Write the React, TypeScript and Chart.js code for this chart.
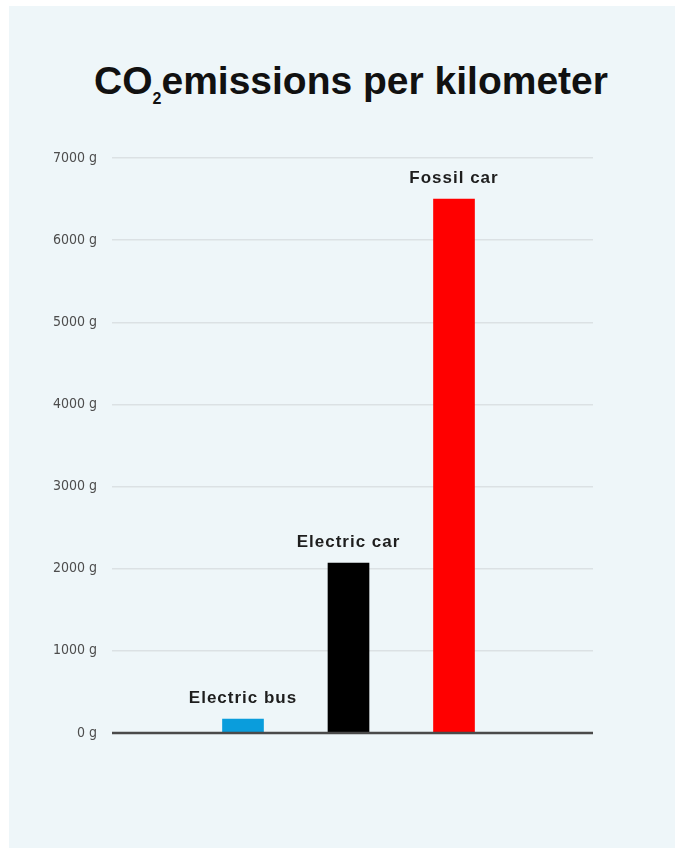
import React, { useEffect, useRef } from "react";
import { Chart, registerables } from "chart.js";

Chart.register(...registerables);

const categories = ["Electric bus", "Electric car", "Fossil car"];
const positions = [1, 2, 3];
const emissions = [170, 2070, 6500];
const barColors = ["#0a9ddc", "#000000", "#ff0000"];
const yTicks = [0, 1000, 2000, 3000, 4000, 5000, 6000, 7000];

const barLabelPlugin = {
  id: "barLabels",
  afterDatasetsDraw(chart: any) {
    const ctx = chart.ctx;
    const meta = chart.getDatasetMeta(0);
    ctx.save();
    ctx.font = "bold 17px 'Liberation Sans', Arial, sans-serif";
    (ctx as any).letterSpacing = "1px";
    ctx.fillStyle = "#1e1e1e";
    ctx.textAlign = "center";
    ctx.textBaseline = "alphabetic";
    meta.data.forEach((el: any, i: number) => {
      ctx.fillText(categories[i], el.x, el.y - 16);
    });
    ctx.restore();
  },
};

const zeroLinePlugin = {
  id: "zeroLine",
  afterDatasetsDraw(chart: any) {
    const ctx = chart.ctx;
    const y = chart.scales.y.getPixelForValue(0);
    const { left, right } = chart.chartArea;
    ctx.save();
    ctx.strokeStyle = "#4a4a4a";
    ctx.lineWidth = 2.5;
    ctx.beginPath();
    ctx.moveTo(left, y);
    ctx.lineTo(right, y);
    ctx.stroke();
    ctx.restore();
  },
};

export default function App() {
  const ref = useRef<HTMLCanvasElement | null>(null);

  useEffect(() => {
    if (!ref.current) return;
    const chart = new Chart(ref.current, {
      type: "bar",
      data: {
        datasets: [
          {
            data: positions.map((p, i) => ({ x: p, y: emissions[i] })),
            backgroundColor: barColors,
            borderWidth: 0,
            barThickness: 41,
          },
        ],
      },
      options: {
        animation: false,
        responsive: false,
        devicePixelRatio: 1,
        layout: { padding: { top: 152, bottom: 115, right: 82, left: 0 } },
        plugins: {
          legend: { display: false },
          tooltip: { enabled: false },
          title: { display: false },
        },
        scales: {
          x: {
            type: "linear",
            display: false,
            offset: false,
            grid: { offset: false },
            min: -0.2417,
            max: 4.3175,
          },
          y: {
            min: 0,
            max: 7000,
            afterFit(scale: any) {
              scale.width = 103;
            },
            afterBuildTicks(scale: any) {
              scale.ticks = yTicks.map((v) => ({ value: v }));
            },
            border: { display: false },
            grid: {
              drawTicks: false,
              color: (c: any) => (c.tick && c.tick.value === 0 ? "rgba(0,0,0,0)" : "#dbe1e4"),
              lineWidth: 1.5,
            },
            ticks: {
              padding: 15,
              color: "#4d4d4d",
              font: { family: "'Liberation Sans Narrow', 'DejaVu Sans Condensed', sans-serif", size: 14 },
              callback: (v: any) => `${v} g`,
            },
          },
        },
      },
      plugins: [barLabelPlugin, zeroLinePlugin],
    });
    return () => chart.destroy();
  }, []);

  return (
    <div
      style={{
        position: "fixed",
        left: 9,
        top: 6,
        width: 666,
        height: 842,
        background: "#eef6f9",
        overflow: "hidden",
      }}
    >
      <div
        style={{
          position: "absolute",
          left: 0,
          width: 684,
          top: 53,
          textAlign: "center",
          fontFamily: "'Liberation Sans', Arial, sans-serif",
          fontWeight: 700,
          fontSize: 39,
          lineHeight: "44px",
          color: "#111",
          whiteSpace: "nowrap",
        }}
      >
        CO
        <span style={{ fontSize: 16, position: "relative", top: 10 }}>2</span>
        emissions per kilometer
      </div>
      <canvas ref={ref} width={666} height={842} style={{ position: "absolute", left: 0, top: 0 }} />
    </div>
  );
}
